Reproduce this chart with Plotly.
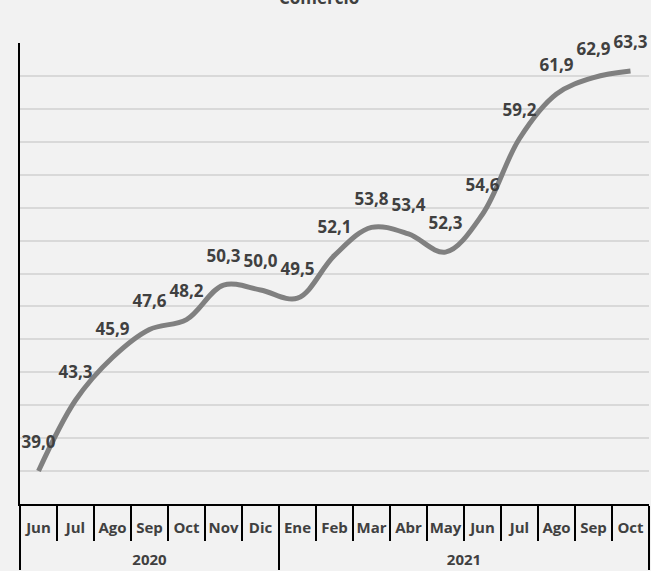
import plotly.graph_objects as go

years = ["2020"] * 7 + ["2021"] * 10
months = ["Jun", "Jul", "Ago", "Sep", "Oct", "Nov", "Dic",
          "Ene", "Feb", "Mar", "Abr", "May", "Jun", "Jul", "Ago", "Sep", "Oct"]
values = [39.0, 43.3, 45.9, 47.6, 48.2, 50.3, 50.0,
          49.5, 52.1, 53.8, 53.4, 52.3, 54.6, 59.2, 61.9, 62.9, 63.3]
labels = [f"{v:.1f}".replace(".", ",") for v in values]

# keep month names unique per position so the multicategory axis keeps the order;
# a blank second line gives the month row the height of the reference table row
seen = {}
month_keys = []
for m in months:
    seen[m] = seen.get(m, 0) + 1
    month_keys.append(m + "\u200b" * (seen[m] - 1) + "<br>\u00a0")

FONT = "Open Sans"
TXT = "#404040"

fig = go.Figure()
fig.add_trace(go.Scatter(
    x=[years, month_keys], y=values,
    mode="lines+markers+text",
    line=dict(color="#808080", width=5, shape="spline", smoothing=1.0),
    marker=dict(size=28, color="rgba(0,0,0,0)"),
    text=labels, textposition="top center",
    textfont=dict(family=FONT, size=17, color=TXT, weight="bold"),
    cliponaxis=False, hoverinfo="skip", showlegend=False,
))

fig.update_layout(
    width=651, height=571,
    margin=dict(l=20, r=2, t=43, b=67),
    paper_bgcolor="#f2f2f2", plot_bgcolor="#f2f2f2",
    font=dict(family=FONT, color=TXT),
    annotations=[dict(
        text="Comercio", xref="paper", yref="paper", x=0.475, y=1.0,
        xanchor="center", yanchor="middle", yshift=46, showarrow=False,
        font=dict(family=FONT, size=17, color=TXT, weight="bold"),
    )],
)
fig.update_xaxes(
    type="multicategory", range=[-0.5, len(values) - 0.5], autorange=False,
    showgrid=False, showline=True, linecolor="black", linewidth=1.5,
    ticks="outside", tickson="boundaries", ticklen=35, tickcolor="black", tickwidth=1.5,
    ticklabelstandoff=9, tickangle=0,
    tickfont=dict(family=FONT, size=15, color=TXT, weight="bold"),
    showdividers=True, dividercolor="black", dividerwidth=1.5,
    automargin=False,
)
fig.update_yaxes(
    range=[37, 65], tick0=37, dtick=2, showticklabels=False, ticks="",
    showgrid=True, gridcolor="#d9d9d9", gridwidth=2,
    showline=True, linecolor="black", linewidth=1.5, zeroline=False,
)

fig.write_html(
    "out.html",
    config={"displayModeBar": False},
    post_script="document.body.style.margin='0';document.body.style.overflow='hidden';",
)
